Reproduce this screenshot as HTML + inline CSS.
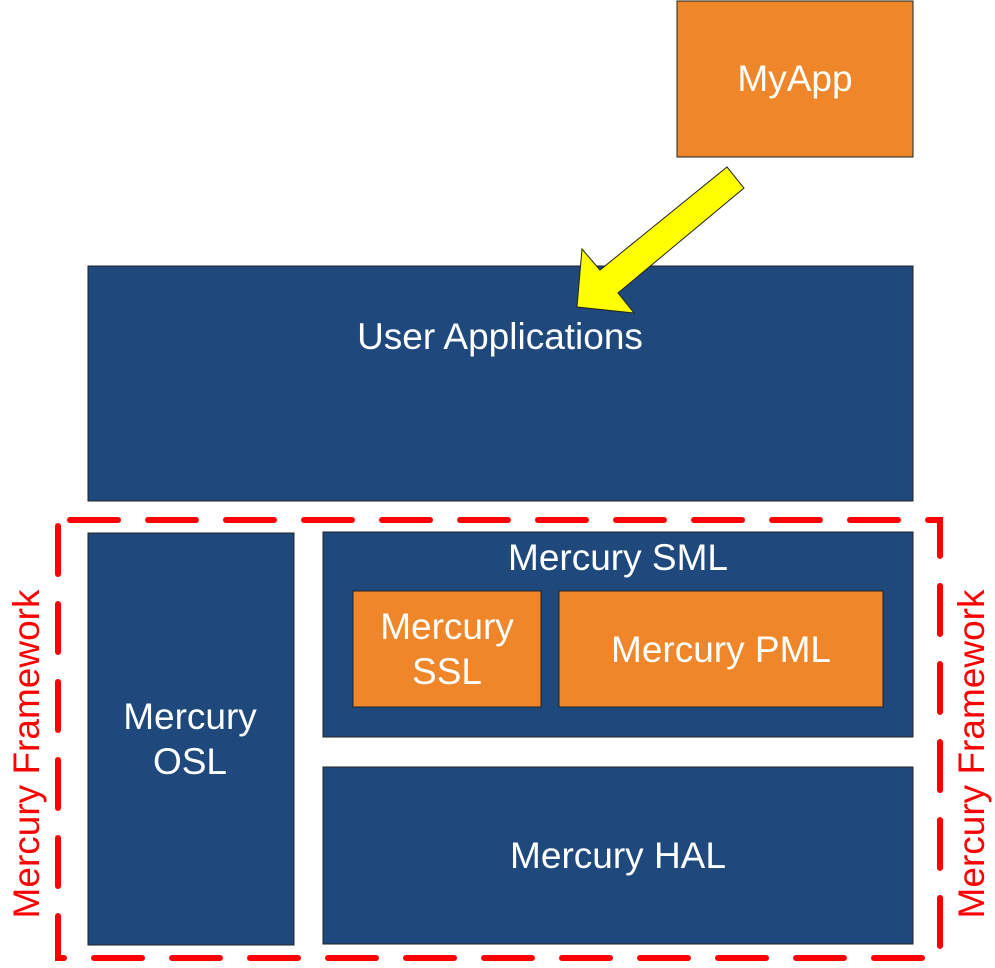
<!DOCTYPE html>
<html><head><style>
body{margin:0;background:#fff;}
svg text{font-family:"Liberation Sans",sans-serif;}
</style></head><body>
<svg width="995" height="963" xmlns="http://www.w3.org/2000/svg">
<g stroke="#222" stroke-width="1">
<rect x="677" y="1" width="236" height="156" fill="#F0862A"/>
<rect x="88" y="266" width="825" height="235" fill="#1F497D"/>
<rect x="88" y="533" width="206" height="412" fill="#1F497D"/>
<rect x="323" y="532" width="590" height="205" fill="#1F497D"/>
<rect x="353" y="591" width="188" height="116" fill="#F0862A"/>
<rect x="559" y="591" width="324" height="116" fill="#F0862A"/>
<rect x="323" y="767" width="590" height="177" fill="#1F497D"/>
</g>
<polygon points="727,167 744,188 618,293 634,313 577,307 582,249 600,270" fill="#FFFF00" stroke="#222" stroke-width="1"/>
<g fill="#fff" font-size="37" text-anchor="middle">
<text x="795" y="91">MyApp</text>
<text x="500" y="349">User Applications</text>
<text x="618" y="570">Mercury SML</text>
<text x="447" y="639">Mercury</text>
<text x="447" y="684">SSL</text>
<text x="721" y="662">Mercury PML</text>
<text x="190" y="729">Mercury</text>
<text x="190" y="774">OSL</text>
<text x="618" y="868">Mercury HAL</text>
</g>
<rect x="58" y="520" width="882" height="438" fill="none" stroke="#FF0000" stroke-width="6" stroke-linecap="round" stroke-dasharray="48 30" stroke-dashoffset="-12"/>
<g fill="#FF0000" font-size="37" text-anchor="middle">
<text transform="translate(39,754) rotate(-90)">Mercury Framework</text>
<text transform="translate(984,754) rotate(-90)">Mercury Framework</text>
</g>
</svg>
</body></html>
